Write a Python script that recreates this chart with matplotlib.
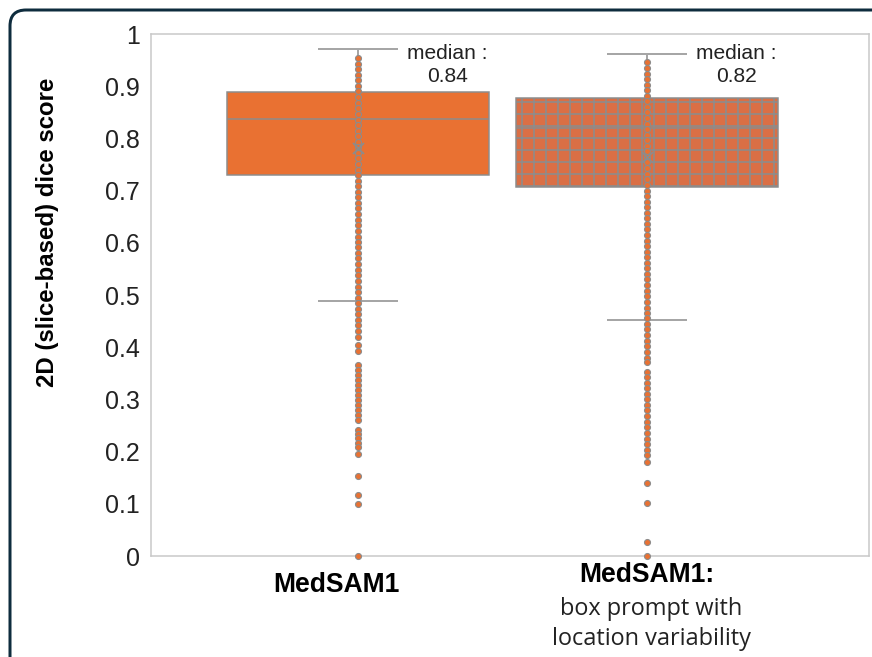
import matplotlib.pyplot as plt
import matplotlib.transforms as mtransforms
from matplotlib.patches import FancyBboxPatch

# box statistics
labels = ["MedSAM1", "MedSAM1:"]
sub_label = "box prompt with\nlocation variability"
q1 = [0.729, 0.706]
medians = [0.837, 0.820]
q3 = [0.889, 0.878]
means = [0.782, 0.764]
whis_lo = [0.489, 0.452]
whis_hi = [0.971, 0.962]

# individual slice scores (inner points + outliers)
points_a = [0.954, 0.943, 0.932, 0.922, 0.911, 0.900, 0.890, 0.879, 0.868, 0.858,
            0.847, 0.836, 0.826, 0.815, 0.804, 0.794, 0.783, 0.772, 0.762, 0.751,
            0.740, 0.730, 0.719, 0.708, 0.698, 0.687, 0.676, 0.666, 0.655, 0.644,
            0.634, 0.623, 0.612, 0.602, 0.591, 0.580, 0.570, 0.559, 0.548, 0.538,
            0.527, 0.516, 0.506, 0.495, 0.484, 0.474, 0.463, 0.452, 0.442, 0.431,
            0.420, 0.404, 0.393, 0.366, 0.356, 0.347, 0.337, 0.327, 0.318, 0.308,
            0.299, 0.289, 0.280, 0.270, 0.261, 0.241, 0.234, 0.226, 0.216, 0.209,
            0.195, 0.153, 0.117, 0.100, 0.0]
points_b = [0.946, 0.935, 0.924, 0.914, 0.903, 0.892, 0.882, 0.871, 0.860, 0.850,
            0.839, 0.828, 0.818, 0.807, 0.796, 0.786, 0.775, 0.764, 0.754, 0.743,
            0.732, 0.722, 0.711, 0.700, 0.690, 0.679, 0.668, 0.658, 0.647, 0.636,
            0.626, 0.615, 0.604, 0.594, 0.583, 0.572, 0.562, 0.551, 0.540, 0.530,
            0.519, 0.508, 0.498, 0.487, 0.476, 0.466, 0.455, 0.444, 0.434, 0.423,
            0.412, 0.402, 0.391, 0.380, 0.372, 0.353, 0.343, 0.332, 0.321, 0.311,
            0.300, 0.289, 0.279, 0.268, 0.257, 0.247, 0.236, 0.225, 0.215, 0.204,
            0.193, 0.181, 0.140, 0.102, 0.026, 0.0]

ORANGE = "#E97132"
ORANGE_DARK = "#DA6F45"
GREY = "#8C8C8C"
LIGHT_GREY = "#A6A6A6"
SANS = ["Liberation Sans", "DejaVu Sans"]

plt.rcParams["font.family"] = SANS
plt.rcParams["hatch.linewidth"] = 1.6

DPI = 72
fig = plt.figure(figsize=(872 / DPI, 657 / DPI), dpi=DPI)
ax = fig.add_axes([151 / 872, 101 / 657, 718 / 872, 522 / 657])

stats = []
for i in range(2):
    stats.append(dict(med=medians[i], q1=q1[i], q3=q3[i], whislo=whis_lo[i],
                      whishi=whis_hi[i], mean=means[i], fliers=[], label=labels[i]))

positions = [0, 1]
bp = ax.bxp(stats, positions=positions, widths=0.905, capwidths=0.27,
            patch_artist=True, showmeans=True, showfliers=False,
            boxprops=dict(edgecolor=GREY, linewidth=1.5),
            medianprops=dict(color=GREY, linewidth=1.5),
            whiskerprops=dict(color=LIGHT_GREY, linewidth=2),
            capprops=dict(color=LIGHT_GREY, linewidth=2),
            meanprops=dict(marker="x", markeredgecolor=GREY, markersize=11,
                           markeredgewidth=1.8))
bp["boxes"][0].set_facecolor(ORANGE)
bp["boxes"][1].set_facecolor(ORANGE_DARK)
bp["boxes"][1].set_hatch("+")
for m in bp["means"]:
    m.set_zorder(6)

for pos, pts in zip(positions, [points_a, points_b]):
    ax.plot([pos] * len(pts), pts, "o", ls="none", ms=6, mfc=ORANGE, mec=GREY,
            mew=1.1, zorder=5, clip_on=False)

# median annotations
for pos, m in zip(positions, medians):
    ax.text(pos + 0.31, 0.94, f"median :\n{m:.2f}", ha="center", va="center",
            fontsize=21, linespacing=1.25, color="#222222")

ax.set_xlim(-0.7163, 1.768)
ax.set_ylim(0, 1)
ax.set_yticks([i / 10 for i in range(11)])
ax.set_yticklabels(["0"] + [f"0.{i}" for i in range(1, 10)] + ["1"])
ax.tick_params(axis="y", length=0, pad=11, labelsize=25, labelcolor="#222222")
ax.set_xticks([])
for s in ax.spines.values():
    s.set_color("#C8C8C8")
    s.set_linewidth(1.5)

ax.set_ylabel("2D (slice-based) dice score", fontsize=24, fontweight="bold")
ax.yaxis.set_label_coords(-0.128, 0.62)

# category labels
ax.annotate(labels[0], xy=(-0.076, 0), xycoords=("data", "axes fraction"),
            xytext=(0, -29), textcoords="offset points", ha="center", va="center",
            fontsize=26.5, fontweight="bold")
ax.annotate(labels[1], xy=(1.0, 0), xycoords=("data", "axes fraction"),
            xytext=(0, -19), textcoords="offset points", ha="center", va="center",
            fontsize=26.5, fontweight="bold")
ax.annotate(sub_label, xy=(1.015, 0), xycoords=("data", "axes fraction"),
            xytext=(0, -68), textcoords="offset points", ha="center", va="center",
            fontsize=23.5, linespacing=1.3, family=["Open Sans", "DejaVu Sans"],
            color="#222222")

# dark rounded frame around the figure
frame = FancyBboxPatch((10, -40), 930, 687, boxstyle="round,pad=0,rounding_size=16",
                       transform=mtransforms.IdentityTransform(), fill=False,
                       edgecolor="#0E2C3D", linewidth=3)
fig.add_artist(frame)

fig.savefig("out.png", dpi=DPI)
